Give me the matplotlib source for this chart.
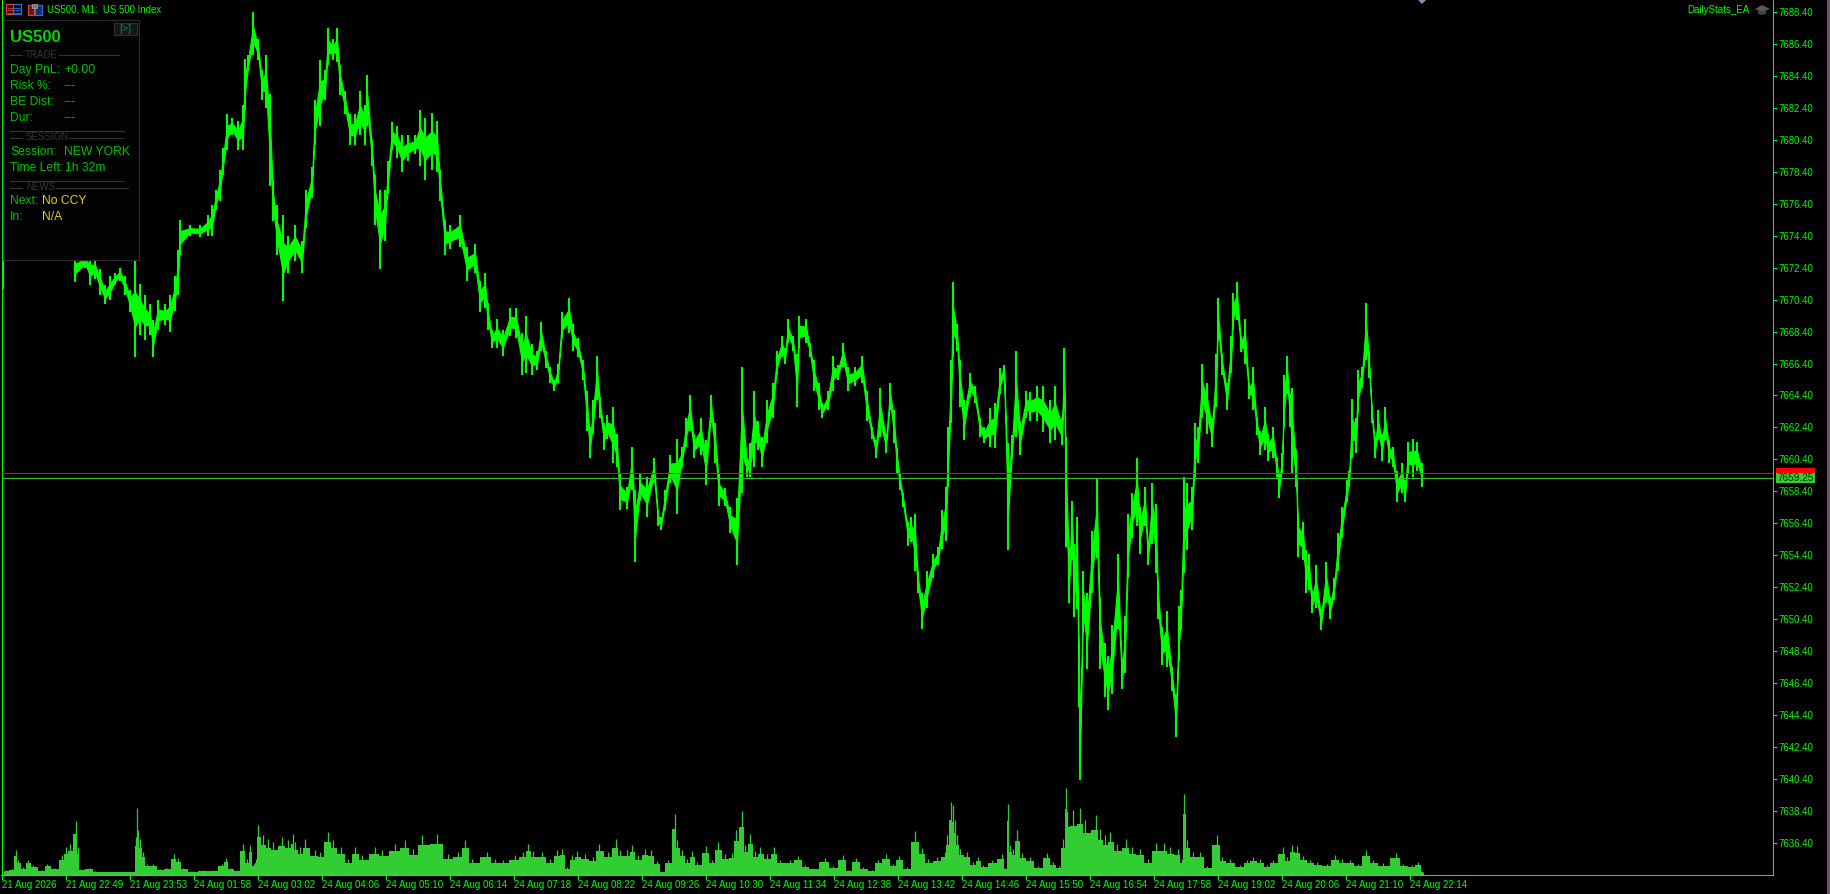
import matplotlib
matplotlib.use("Agg")
import matplotlib.pyplot as plt
from matplotlib.patches import Rectangle, Polygon
from matplotlib.lines import Line2D

# chart data
bars = [3,75,85,90,95,100,105,110,115,120,125,130,135,140,145,150,153,158,165,170,175,178,180,190,200,208,212,216,220,223,227,232,238,243,245,248,253,258,262,266,270,273,277,283,288,295,302,306,312,315,320,325,328,333,337,340,345,350,355,360,365,367,372,375,380,385,388,392,397,402,408,415,420,425,432,437,440,445,450,460,467,475,480,485,488,492,497,503,510,516,522,526,532,537,541,546,550,554,558,562,569,573,578,583,587,590,593,597,600,604,607,613,617,620,627,632,635,640,647,654,658,661,665,670,677,682,686,690,694,701,706,711,715,719,725,730,737,742,747,750,754,758,762,767,773,777,782,785,788,793,797,799,806,810,814,819,822,828,833,838,843,848,855,862,867,872,876,880,886,890,894,897,900,903,908,911,915,918,922,927,933,938,942,946,948,951,953,957,960,964,970,975,980,984,990,995,1000,1004,1008,1012,1016,1020,1026,1030,1037,1043,1050,1055,1062,1064,1066,1069,1072,1074,1077,1079,1080,1083,1087,1092,1097,1100,1105,1108,1112,1118,1122,1125,1128,1132,1137,1140,1145,1148,1152,1156,1158,1162,1167,1172,1176,1179,1181,1184,1187,1192,1195,1198,1202,1207,1212,1216,1218,1222,1227,1231,1233,1237,1241,1245,1249,1253,1257,1260,1265,1268,1273,1277,1279,1282,1284,1287,1290,1292,1296,1298,1303,1306,1309,1312,1316,1321,1326,1330,1334,1338,1342,1347,1349,1352,1356,1358,1362,1366,1369,1372,1375,1378,1382,1385,1389,1393,1397,1402,1405,1408,1413,1417,1422]
high = [7673.2,7673.2,7673.2,7673.2,7673.0,7672.3,7671.3,7671.9,7672.1,7672.4,7671.9,7671.0,7672.8,7671.4,7670.7,7670.1,7669.1,7670.4,7670.1,7670.7,7671.9,7673.5,7675.4,7675.1,7675.1,7675.7,7676.3,7677.3,7678.5,7679.9,7682.0,7681.8,7681.6,7682.6,7685.5,7685.7,7688.4,7686.7,7684.8,7685.7,7683.3,7677.9,7676.3,7675.7,7674.4,7675.1,7674.1,7677.3,7678.7,7682.9,7685.4,7684.8,7687.4,7686.7,7687.4,7685.1,7683.5,7682.0,7682.0,7683.5,7682.6,7684.5,7680.4,7678.2,7677.3,7677.3,7679.1,7681.5,7681.3,7680.7,7680.7,7680.7,7682.3,7681.8,7682.1,7681.6,7678.5,7675.4,7675.1,7675.7,7673.7,7673.9,7671.6,7672.1,7670.2,7668.5,7669.2,7668.5,7669.9,7669.9,7668.3,7669.4,7667.6,7667.2,7669.0,7667.2,7666.2,7665.4,7666.4,7669.6,7670.5,7668.9,7668.0,7666.6,7664.7,7662.4,7664.1,7666.9,7664.3,7662.7,7663.2,7663.7,7662.0,7659.5,7658.7,7661.2,7658.5,7659.5,7659.3,7660.5,7657.2,7656.8,7658.5,7660.7,7661.7,7661.2,7663.0,7664.4,7662.0,7663.0,7661.6,7664.4,7662.7,7659.5,7658.6,7657.4,7658.0,7666.2,7660.5,7661.4,7664.7,7662.8,7661.8,7664.1,7665.2,7667.2,7668.1,7667.4,7669.2,7668.1,7667.0,7669.4,7669.2,7667.7,7666.6,7665.2,7663.9,7664.7,7666.9,7666.3,7667.7,7666.2,7666.2,7666.9,7664.7,7662.4,7661.6,7664.9,7662.0,7665.2,7663.5,7661.1,7659.5,7658.3,7656.5,7656.8,7657.0,7653.4,7652.0,7653.4,7654.5,7654.9,7657.2,7658.7,7662.4,7666.6,7671.5,7668.9,7666.6,7664.1,7665.8,7665.0,7663.0,7662.4,7663.6,7663.9,7666.1,7666.3,7661.4,7661.9,7667.2,7662.8,7664.7,7664.6,7665.0,7665.0,7664.1,7665.0,7663.0,7667.4,7661.8,7654.9,7657.8,7655.1,7656.8,7648.9,7644.9,7653.4,7652.0,7655.9,7659.2,7651.7,7648.9,7648.1,7650.0,7654.5,7647.9,7650.6,7657.0,7658.3,7660.5,7657.4,7658.7,7655.3,7658.9,7657.6,7652.8,7649.9,7650.9,7647.4,7645.7,7651.2,7652.2,7659.3,7658.9,7658.7,7662.7,7662.4,7666.4,7665.2,7663.0,7667.0,7670.5,7667.0,7665.2,7668.1,7670.8,7671.5,7668.1,7669.2,7665.2,7666.2,7663.0,7662.2,7663.7,7662.0,7662.4,7660.5,7659.5,7660.8,7665.7,7666.9,7664.5,7664.9,7661.0,7657.0,7656.5,7654.7,7654.5,7652.2,7653.8,7651.0,7654.0,7651.8,7653.0,7655.8,7657.4,7659.1,7659.7,7664.2,7663.0,7666.0,7666.2,7670.2,7667.2,7663.5,7661.8,7663.5,7662.0,7663.7,7661.6,7661.2,7659.7,7660.2,7659.1,7661.5,7661.7,7661.5,7660.2]
low = [7671.1,7671.5,7672.4,7671.3,7671.7,7670.7,7670.1,7670.4,7671.3,7671.6,7670.7,7669.6,7666.8,7668.2,7667.9,7668.2,7666.8,7668.5,7668.8,7668.4,7669.7,7670.7,7673.2,7674.4,7674.3,7674.4,7674.4,7676.0,7676.6,7678.2,7679.8,7680.7,7679.8,7679.8,7682.3,7684.7,7685.7,7685.4,7682.9,7682.4,7677.5,7675.3,7673.2,7670.3,7672.1,7672.8,7672.1,7674.9,7676.8,7680.1,7681.3,7682.9,7685.1,7685.4,7685.3,7683.2,7682.0,7680.1,7680.1,7680.7,7680.1,7681.3,7678.8,7675.1,7672.3,7674.1,7677.0,7679.8,7679.3,7678.4,7679.1,7679.5,7678.8,7677.9,7678.5,7678.4,7676.6,7673.2,7673.6,7673.7,7671.6,7672.1,7669.6,7669.9,7668.5,7667.4,7667.4,7666.9,7668.1,7668.0,7665.7,7665.8,7665.7,7666.0,7667.2,7666.1,7665.2,7664.7,7665.2,7668.0,7668.3,7667.2,7666.8,7665.4,7662.2,7660.5,7662.0,7664.1,7663.0,7661.0,7661.7,7660.2,7659.9,7657.2,7657.3,7658.5,7654.0,7657.8,7656.8,7658.9,7656.2,7656.0,7657.2,7658.9,7657.0,7659.9,7661.2,7662.2,7660.5,7660.7,7658.8,7662.7,7660.2,7657.5,7657.5,7655.8,7653.8,7658.3,7659.3,7659.3,7659.9,7661.0,7659.9,7661.4,7663.0,7665.7,7666.8,7666.4,7667.7,7667.2,7663.7,7667.4,7667.7,7666.8,7664.7,7663.5,7663.0,7663.5,7664.7,7665.4,7666.2,7664.7,7665.0,7665.2,7662.8,7661.7,7660.5,7661.8,7660.8,7663.5,7661.4,7659.5,7658.5,7657.4,7655.0,7655.2,7653.4,7652.0,7649.8,7651.1,7653.0,7653.8,7654.8,7655.3,7658.7,7662.7,7666.8,7667.2,7663.7,7661.6,7664.3,7663.9,7661.8,7661.4,7661.2,7661.1,7664.5,7665.4,7654.7,7660.5,7661.8,7660.7,7663.0,7662.8,7662.8,7662.1,7661.4,7661.6,7661.3,7664.5,7654.9,7651.4,7654.1,7650.5,7651.0,7644.9,7640.3,7649.6,7647.3,7652.0,7654.2,7647.3,7645.5,7644.7,7645.7,7649.8,7646.0,7647.0,7653.0,7655.5,7656.2,7654.5,7656.2,7653.8,7655.1,7653.3,7650.4,7647.5,7647.4,7645.9,7643.0,7647.8,7649.7,7653.3,7654.7,7656.0,7659.3,7660.2,7663.0,7662.0,7661.2,7663.7,7667.9,7665.7,7663.5,7665.8,7668.5,7669.1,7667.1,7666.4,7664.2,7663.5,7661.9,7660.7,7661.0,7660.3,7660.5,7659.3,7658.0,7659.5,7662.4,7664.5,7662.4,7659.5,7658.7,7654.3,7654.1,7652.0,7652.2,7650.8,7651.1,7649.7,7651.4,7650.4,7651.6,7653.4,7655.5,7657.7,7658.7,7660.5,7660.8,7663.3,7664.9,7666.6,7665.5,7662.7,7660.5,7661.6,7660.3,7661.6,7660.2,7659.9,7657.7,7658.3,7657.7,7659.5,7659.3,7659.7,7658.7]

vol_bars = [4,6,12,16,18,23,28,33,42,47,55,62,66,70,76,78,80,90,95,110,127,133,136,137,138,140,143,147,153,160,167,174,178,183,193,203,213,222,226,230,237,243,247,250,254,256,258,263,268,273,282,288,293,295,300,305,315,320,328,333,341,348,355,362,375,382,395,405,413,422,437,448,458,465,472,487,495,503,515,523,528,533,542,550,557,562,567,572,577,585,593,599,608,616,620,627,632,638,645,651,657,662,668,675,677,682,687,692,697,706,712,718,725,732,736,742,745,750,755,760,767,774,780,790,798,805,813,825,833,843,848,856,863,872,878,886,893,899,907,915,922,928,937,945,947,951,953,955,957,960,967,973,978,983,992,1002,1005,1008,1010,1013,1017,1022,1030,1038,1047,1053,1059,1063,1066,1067,1073,1080,1085,1096,1100,1105,1110,1117,1126,1132,1140,1148,1156,1164,1170,1178,1182,1184,1187,1193,1200,1207,1217,1222,1230,1240,1247,1253,1260,1267,1273,1283,1287,1292,1297,1303,1310,1317,1327,1335,1342,1350,1358,1366,1373,1383,1396,1403,1412,1418,1423]
volume = [4,5,6,25,15,8,15,10,5,11,7,20,28,31,54,28,6,7,4,3,3,3,38,67,45,36,23,11,11,6,7,21,17,7,4,5,5,11,17,7,5,31,16,30,11,16,50,40,36,33,38,35,41,33,28,36,25,23,43,35,28,16,28,20,28,25,31,35,26,40,41,21,23,35,16,23,16,15,20,23,31,24,23,16,25,26,8,20,24,21,18,31,23,36,25,25,30,20,26,25,14,3,15,61,35,25,16,24,13,29,15,33,21,22,45,64,30,41,24,28,21,28,15,15,19,10,7,17,9,20,5,17,8,5,15,21,11,19,8,44,27,16,18,23,40,73,70,55,40,26,23,13,18,10,15,21,7,71,30,26,45,22,18,9,22,13,9,36,87,64,65,67,55,60,46,40,43,31,36,28,26,16,32,32,28,26,16,81,35,23,23,9,40,18,16,10,15,18,16,10,15,28,18,30,29,19,15,13,11,20,16,15,11,25,15,12,22,11,10,13,3]

price_ticks = [7636.4 + 2 * i for i in range(27)]
time_labels = ["21 Aug 2026", "21 Aug 22:49", "21 Aug 23:53", "24 Aug 01:58", "24 Aug 03:02", "24 Aug 04:06",
               "24 Aug 05:10", "24 Aug 06:14", "24 Aug 07:18", "24 Aug 08:22", "24 Aug 09:26", "24 Aug 10:30",
               "24 Aug 11:34", "24 Aug 12:38", "24 Aug 13:42", "24 Aug 14:46", "24 Aug 15:50", "24 Aug 16:54",
               "24 Aug 17:58", "24 Aug 19:02", "24 Aug 20:06", "24 Aug 21:10", "24 Aug 22:14"]
ask = 7659.55
bid = 7659.25

W, H = 1830, 894
GREEN = "#00FF00"
NARROW = ["Liberation Sans Narrow", "Liberation Sans"]
plt.rcParams["font.family"] = ["Liberation Sans", "DejaVu Sans"]

fig = plt.figure(figsize=(W / 100, H / 100), dpi=100, facecolor="black")


def fx(x):
    return x / W


def fy(y):
    return 1 - y / H


def label(x, y, s, color, size=8.7, **kw):
    kw.setdefault("va", "center")
    fig.text(fx(x), fy(y), s, color=color, fontsize=size, **kw)


def rect(x0, y0, x1, y1, **kw):
    fig.add_artist(Rectangle((fx(x0), fy(y1)), fx(x1 - x0), y1 / H - y0 / H, transform=fig.transFigure, **kw))


def hline(x0, x1, y, color, lw=0.75):
    fig.add_artist(Line2D([fx(x0), fx(x1)], [fy(y), fy(y)], color=color, lw=lw, transform=fig.transFigure))


# main chart, one pixel per M1 bar
ax = fig.add_axes([fx(1.5), fy(874.5), fx(1773 - 1.5), 874.5 / H], facecolor="black")
ax.set_xlim(1.5, 1773)
ax.set_ylim(7634.4, 7689.17)

# volumes along the bottom, drawn first so they sit under the price bars
vx = fig.add_axes(ax.get_position(), sharex=ax, facecolor="none", zorder=-1)
vx.set_ylim(0, 874.5)
body = [v * 0.75 for v in volume]
vx.fill_between(vol_bars, body, 0, step="mid", color="#32CD32", lw=0)
vx.vlines(vol_bars, 0, volume, color="#32CD32", lw=0.9)
vx.axis("off")
ax.set_zorder(0)
ax.patch.set_visible(False)

mid = [(a + b) / 2 for a, b in zip(high, low)]
span = [0.18 * (a - b) for a, b in zip(high, low)]
ax.fill_between(bars[1:], [m - s for m, s in zip(mid[1:], span[1:])], [m + s for m, s in zip(mid[1:], span[1:])],
                color=GREEN, lw=0.8, zorder=3)
ax.vlines(bars, low, high, color=GREEN, lw=1.5, zorder=3)

ax.axhline(ask, color="#FF0000", lw=0.8, zorder=4)
ax.axhline(bid, color="#2FBF2F", lw=0.8, zorder=4)

ax.set_xticks([2 + 64 * i for i in range(len(time_labels))])
ax.set_xticklabels(time_labels, ha="left", fontsize=7.0, color=GREEN, family=NARROW)
ax.set_yticks(price_ticks)
ax.set_yticklabels(["%.2f" % p for p in price_ticks], fontsize=6.9, color=GREEN, family=NARROW)
ax.yaxis.tick_right()
ax.tick_params(axis="x", colors=GREEN, length=3.5, width=0.75, pad=0.5)
ax.tick_params(axis="y", colors=GREEN, length=3, width=0.75, pad=1)
for name, sp in ax.spines.items():
    sp.set_color(GREEN)
    sp.set_linewidth(0.75)
ax.spines["top"].set_visible(False)

# price labels on the axis
rect(1776, 468, 1815, 474, facecolor="#FF0000", lw=0, zorder=5)
rect(1776, 473, 1815, 483, facecolor="#32CD32", lw=0, zorder=5)
label(1778, 478, "%.2f" % bid, "#003300", size=7.2, family=NARROW, zorder=6)

# strip of the window behind, right edge
rect(1827, 0, 1830, 894, facecolor="#6A5A68", lw=0, zorder=5)

# header
rect(6, 4, 13, 14, facecolor="none", edgecolor="#E04030", lw=0.9)
rect(13, 4, 21, 14, facecolor="none", edgecolor="#2A6FE0", lw=0.9)
for yy in (7.5, 10, 12.5):
    hline(8, 13, yy, "#E04030", 0.6)
    hline(14, 20, yy, "#2A6FE0", 0.6)
rect(28, 5, 34, 15, facecolor="#5A1F18", edgecolor="#E04030", lw=0.9)
rect(35, 5, 42, 15, facecolor="#12306A", edgecolor="#2A6FE0", lw=0.9)
rect(32, 4, 37, 8, facecolor="#777777", edgecolor="#AAAAAA", lw=0.5)
label(47, 9.5, "US500, M1:  US 500 Index", GREEN, size=6.9, family=NARROW)
label(1750, 10, "DailyStats_EA", GREEN, size=7.0, ha="right", family=NARROW)

# little cap icon next to the EA name
fig.add_artist(Polygon([(fx(1755), fy(9)), (fx(1762), fy(5)), (fx(1770), fy(9)), (fx(1762), fy(12))],
                       closed=True, facecolor="#5A5A5A", lw=0, transform=fig.transFigure))
fig.add_artist(Polygon([(fx(1758), fy(11)), (fx(1766), fy(11)), (fx(1766), fy(14)), (fx(1762), fy(15)), (fx(1758), fy(14))],
                       closed=True, facecolor="#444444", lw=0, transform=fig.transFigure))

# marker on the top edge
fig.add_artist(Polygon([(fx(1418), fy(0)), (fx(1426), fy(0)), (fx(1422), fy(4))],
                       closed=True, facecolor="#8090B0", lw=0, transform=fig.transFigure))

# EA panel
TXT = "#00C000"
DIM = "#33343C"
YEL = "#E6D000"
rect(2.5, 20, 139, 260, facecolor="#030303", edgecolor="#2A2A30", lw=0.9, zorder=2)
rect(114, 23, 137, 35, facecolor="#14161C", edgecolor="#2C303A", lw=0.9, zorder=2)
label(125.5, 29, "[>]", "#008A40", size=7.5, ha="center")
label(10, 37, "US500", "#00D800", size=12, fontweight="bold")

label(25, 55, "TRADE", DIM, size=7)
hline(10, 22, 55, DIM)
hline(59, 119, 55, DIM)
label(10, 70, "Day PnL:", TXT)
label(64, 70, "+0.00", TXT)
label(10, 86, "Risk %:", TXT)
label(64, 86, "---", TXT)
label(10, 102, "BE Dist:", TXT)
label(64, 102, "---", TXT)
label(10, 118, "Dur:", TXT)
label(64, 118, "---", TXT)

hline(10, 124, 131, DIM)
label(26, 137.5, "SESSION", DIM, size=7)
hline(10, 22, 137.5, DIM)
hline(69, 123, 137.5, DIM)
label(10, 152, "Session:", TXT)
label(64, 152, "NEW YORK", TXT)
label(10, 168, "Time Left:", TXT)
label(65, 168, "1h 32m", TXT)

hline(10, 124, 181, DIM)
label(26, 187.5, "NEWS", DIM, size=7)
hline(10, 22, 187.5, DIM)
hline(56, 128, 187.5, DIM)
label(10, 201.5, "Next:", TXT)
label(42, 201.5, "No CCY", YEL)
label(10, 217.5, "In:", TXT)
label(42, 217.5, "N/A", YEL)

fig.savefig("out.png", dpi=100, facecolor="black")
